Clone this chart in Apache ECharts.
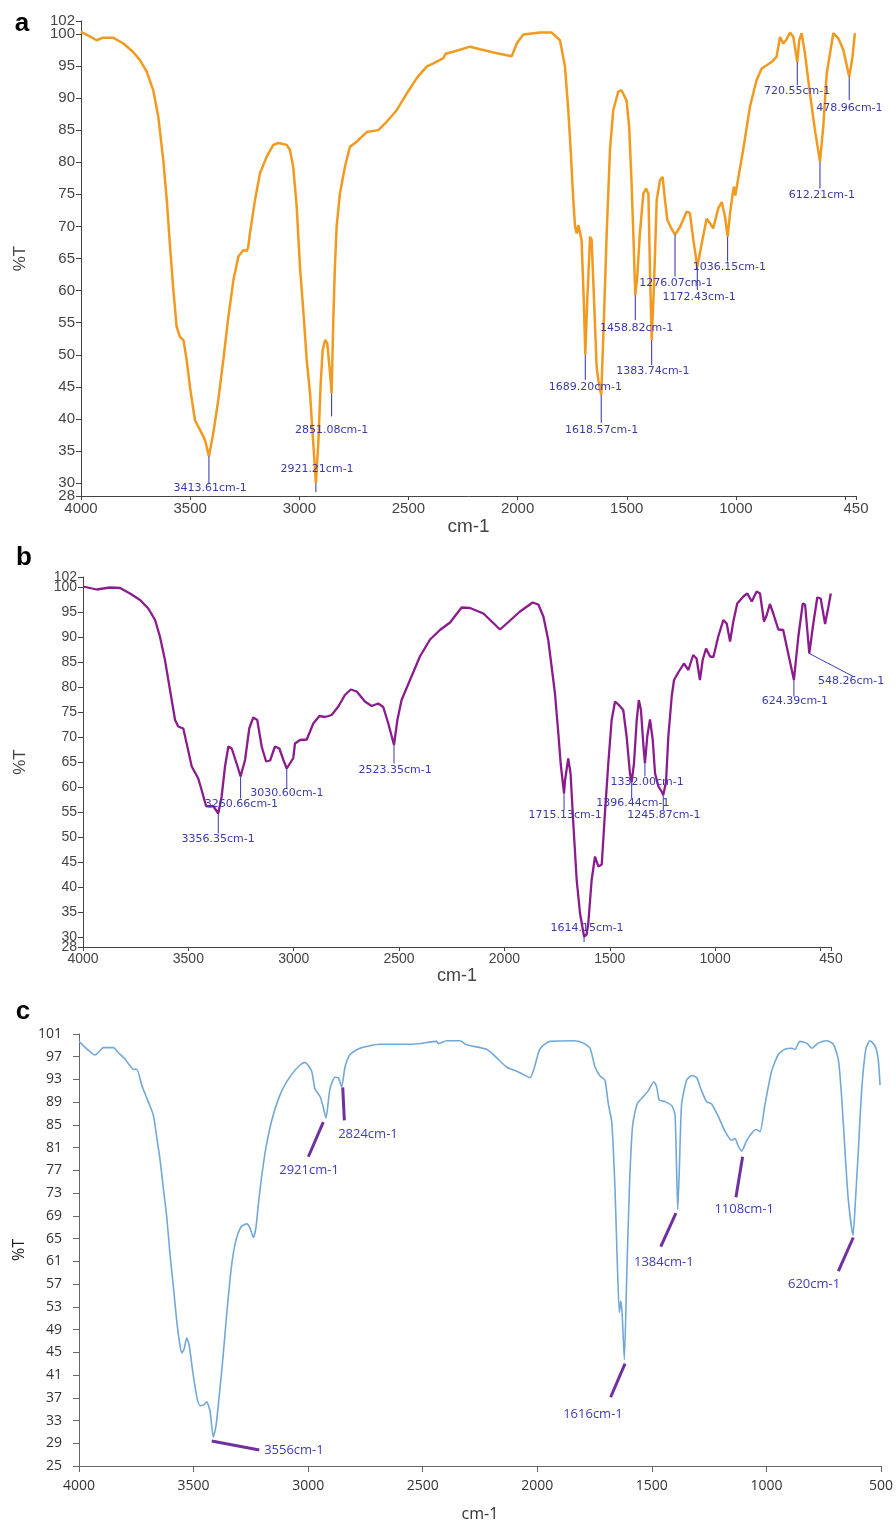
<!DOCTYPE html>
<html>
<head>
<meta charset="utf-8">
<script src="https://cdn.jsdelivr.net/npm/echarts@6/dist/echarts.min.js"></script>
<style>
html,body{margin:0;padding:0;background:#fff;}
#chart{width:896px;height:1523px;}
</style>
</head>
<body>
<div id="chart"></div>
<script>
// ---------- tick values ----------
const wnTicksAB   = [4000,3500,3000,2500,2000,1500,1000,500,450];
const wnLabelsAB  = [4000,3500,3000,2500,2000,1500,1000,450];
const tTicksAB    = [28,30,35,40,45,50,55,60,65,70,75,80,85,90,95,100,102];
const tLabelsAB   = [30,35,40,45,50,55,60,65,70,75,80,85,90,95,100];
const tEdgeLabels = [28,102];
const tTicksC     = [25,29,33,37,41,45,49,53,57,61,65,69,73,77,81,85,89,93,97,101];

// ---------- spectrum a : [wavenumber, %T] ----------
const specA = [
[4000,100.3],[3960,99.6],[3928,99.0],[3900,99.4],[3853,99.4],[3806,98.5],[3762,97.2],[3730,95.9],[3699,94.1],[3669,91.2],
[3646,87.1],[3623,80.3],[3607,74.1],[3592,66.8],[3577,60.1],[3562,54.4],[3547,52.8],[3531,52.3],[3516,49.2],[3501,45.0],
[3478,39.8],[3455,38.3],[3432,36.7],[3414,34.2],[3394,37.8],[3371,43.0],[3348,49.2],[3325,55.9],[3302,61.6],[3279,65.3],
[3257,66.3],[3240,66.2],[3234,66.8],[3226,69.0],[3203,74.1],[3180,78.3],[3149,80.9],[3119,82.7],[3096,83.0],[3058,82.7],
[3043,81.9],[3028,79.3],[3012,73.1],[2997,63.7],[2982,57.0],[2966,49.2],[2951,44.0],[2936,36.2],[2924,30.0],[2913,36.2],
[2902,45.6],[2893,50.7],[2882,52.3],[2872,51.8],[2859,47.1],[2852,44.0],[2844,55.9],[2837,63.7],[2829,70.0],[2814,75.1],
[2791,79.3],[2768,82.4],[2737,83.2],[2691,84.7],[2638,85.0],[2600,86.3],[2554,88.1],[2508,90.7],[2462,93.1],[2417,94.9],
[2386,95.4],[2340,96.2],[2330,96.9],[2295,97.2],[2218,98.0],[2172,97.6],[2111,97.1],[2027,96.5],[2004,98.5],[1974,99.9],
[1898,100.2],[1844,100.2],[1806,99.0],[1783,94.9],[1768,88.1],[1757,81.9],[1745,74.1],[1737,70.0],[1729,68.9],[1722,70.2],
[1707,67.9],[1696,57.5],[1690,50.0],[1681,58.5],[1668,68.4],[1661,67.9],[1653,61.2],[1638,48.1],[1630,46.0],[1617,43.7],
[1607,53.3],[1592,68.9],[1577,81.9],[1562,88.1],[1539,91.0],[1524,91.2],[1501,89.6],[1489,85.5],[1478,76.7],[1470,68.9],
[1461,59.3],[1452,62.2],[1440,68.9],[1424,75.1],[1412,75.9],[1401,75.1],[1394,63.7],[1386,52.3],[1375,61.1],[1363,74.1],
[1348,77.2],[1336,77.7],[1325,74.1],[1314,71.0],[1299,69.9],[1279,68.7],[1256,69.9],[1226,72.3],[1211,72.1],[1195,67.9],
[1177,63.7],[1157,67.3],[1134,71.2],[1119,70.5],[1104,69.7],[1081,72.8],[1065,73.8],[1050,71.5],[1038,68.4],[1027,72.0],
[1015,75.1],[1009,76.2],[1003,74.8],[997,76.0],[967,81.9],[936,88.6],[921,90.7],[905,92.8],[882,94.6],[859,95.1],
[837,95.6],[814,96.4],[798,99.5],[783,98.5],[771,99.0],[752,100.2],[737,99.5],[719,95.6],[710,99.0],[699,100.1],
[684,97.0],[661,90.7],[638,85.0],[615,80.1],[600,85.5],[584,93.8],[554,100.1],[531,99.3],[508,97.5],[481,93.3],
[466,96.4],[455,100.1]
];

// ---------- spectrum b ----------
const specB = [
[4000,100.1],[3935,99.5],[3872,99.9],[3824,99.8],[3777,98.7],[3729,97.4],[3690,95.7],[3658,93.4],[3635,90.1],[3611,85.4],
[3587,79.4],[3563,73.4],[3548,72.1],[3524,71.7],[3508,68.7],[3484,64.1],[3453,61.7],[3437,59.4],[3416,56.2],[3397,56.1],
[3382,56.2],[3358,54.7],[3342,58.1],[3326,64.1],[3310,68.1],[3294,67.7],[3271,64.7],[3252,62.1],[3231,65.4],[3211,71.7],
[3192,73.9],[3173,73.4],[3152,68.1],[3131,65.1],[3112,65.3],[3089,68.1],[3068,67.7],[3049,65.4],[3033,63.7],[3002,65.8],
[2994,68.7],[2970,69.4],[2938,69.5],[2907,72.7],[2878,74.2],[2851,74.0],[2820,74.4],[2788,76.1],[2757,78.4],[2729,79.5],
[2701,79.1],[2662,77.1],[2630,76.2],[2599,76.7],[2575,76.0],[2551,72.7],[2524,68.4],[2508,73.4],[2488,77.4],[2448,81.4],
[2401,86.1],[2353,89.5],[2306,91.4],[2258,92.9],[2203,95.9],[2163,95.8],[2100,94.7],[2060,93.1],[2021,91.5],[1981,93.0],
[1926,95.1],[1866,96.9],[1839,96.5],[1815,94.1],[1792,89.4],[1776,84.1],[1760,78.7],[1744,70.7],[1733,64.7],[1717,58.7],
[1712,61.4],[1697,65.7],[1686,62.7],[1673,52.7],[1657,41.4],[1641,34.7],[1622,30.1],[1610,30.5],[1602,32.7],[1586,41.4],
[1570,46.1],[1554,44.1],[1538,44.5],[1523,54.7],[1507,64.7],[1491,73.4],[1475,77.1],[1459,76.5],[1436,75.4],[1420,70.1],
[1404,62.7],[1396,61.0],[1385,64.7],[1372,73.4],[1362,77.4],[1352,75.4],[1341,68.7],[1333,64.7],[1322,70.1],[1309,73.5],
[1296,69.4],[1285,62.7],[1269,60.1],[1254,59.1],[1246,58.4],[1233,61.0],[1222,70.1],[1206,78.1],[1195,81.4],[1175,82.9],
[1148,84.7],[1127,83.4],[1104,86.4],[1088,85.7],[1072,81.4],[1059,85.4],[1043,87.7],[1024,86.1],[1008,86.0],[985,90.1],
[961,93.4],[945,92.7],[929,89.1],[914,93.0],[895,96.7],[866,98.1],[847,98.7],[826,97.1],[803,99.1],[787,98.7],
[768,93.1],[755,94.4],[740,96.6],[724,94.7],[700,91.5],[677,91.4],[653,86.7],[626,81.4],[605,90.1],[584,96.7],
[573,96.5],[553,86.7],[534,92.7],[515,97.9],[499,97.7],[478,92.6],[462,96.1],[451,98.7]
];

// ---------- spectrum c ----------
const specC = [
[4000,99.7],[3966,98.4],[3930,97.3],[3908,98.1],[3894,98.6],[3850,98.6],[3828,97.7],[3799,96.6],[3785,95.8],[3763,94.8],
[3748,94.8],[3726,92.0],[3698,89.1],[3676,86.8],[3661,82.9],[3647,79.1],[3632,73.9],[3617,68.8],[3603,62.3],[3588,56.5],
[3574,50.7],[3562,46.9],[3552,44.9],[3542,45.5],[3530,47.5],[3519,46.2],[3504,41.7],[3486,37.2],[3472,35.6],[3454,35.8],
[3443,36.3],[3428,34.6],[3414,30.1],[3402,32.1],[3385,38.5],[3370,44.9],[3356,51.4],[3341,57.8],[3327,62.3],[3309,65.6],
[3290,67.2],[3268,67.6],[3254,66.9],[3239,65.2],[3228,66.9],[3218,70.7],[3203,75.9],[3181,81.7],[3152,86.8],[3115,91.0],
[3072,93.9],[3036,95.5],[3014,96.0],[2985,94.5],[2970,91.3],[2948,90.0],[2934,88.1],[2922,86.2],[2905,91.3],[2883,93.4],
[2868,93.3],[2854,91.7],[2839,95.2],[2817,97.4],[2774,98.5],[2686,99.2],[2541,99.2],[2439,99.7],[2432,99.3],[2395,99.8],
[2337,99.8],[2308,99.1],[2221,98.3],[2177,96.8],[2134,95.2],[2076,94.2],[2032,93.3],[2017,94.5],[1988,98.4],[1945,99.7],
[1843,99.8],[1799,99.4],[1770,98.5],[1748,95.2],[1726,93.6],[1705,92.9],[1690,88.7],[1675,85.5],[1661,73.9],[1651,61.0],
[1642,52.0],[1636,54.0],[1630,52.0],[1620,43.7],[1610,57.8],[1598,73.9],[1584,84.9],[1564,88.7],[1537,90.0],[1516,91.0],
[1491,92.6],[1479,91.7],[1468,89.4],[1443,89.1],[1413,88.4],[1399,86.8],[1392,77.2],[1387,70.1],[1380,77.2],[1370,88.7],
[1348,92.9],[1326,93.7],[1304,93.3],[1283,91.0],[1261,89.1],[1239,88.7],[1210,86.5],[1181,83.9],[1152,82.3],[1137,82.6],
[1123,81.3],[1108,80.4],[1086,82.3],[1057,83.9],[1043,84.2],[1028,83.8],[1006,88.7],[977,94.5],[948,97.4],[919,98.3],
[890,98.5],[875,98.3],[854,99.7],[824,99.4],[802,98.5],[774,99.4],[737,99.8],[708,99.2],[686,96.5],[672,90.0],
[657,80.4],[643,72.0],[622,65.6],[613,70.7],[599,80.4],[584,91.3],[566,98.4],[548,99.8],[526,98.9],[512,96.5],[504,92.0]
];

// ---------- peak annotations : [wn1, %T1, wn2, %T2, labelWn, labelT, text] ----------
const peaksA = [
[3414,34.2,3414,30.0,3409,29.2,'3413.61cm-1'],
[2924,30.0,2924,28.6,2919,32.2,'2921.21cm-1'],
[2852,44.0,2852,40.4,2852,38.3,'2851.08cm-1'],
[1690,50.0,1690,46.1,1690,45.0,'1689.20cm-1'],
[1617,43.7,1617,39.4,1615,38.3,'1618.57cm-1'],
[1461,59.3,1461,55.4,1455,54.2,'1458.82cm-1'],
[1386,52.3,1386,48.4,1380,47.5,'1383.74cm-1'],
[1279,68.7,1279,62.2,1275,61.1,'1276.07cm-1'],
[1177,63.7,1177,60.1,1169,59.0,'1172.43cm-1'],
[1038,68.4,1038,64.5,1030,63.6,'1036.15cm-1'],
[719,95.6,719,92.0,720,91.0,'720.55cm-1'],
[615,80.1,615,75.9,606,74.8,'612.21cm-1'],
[481,93.3,481,89.7,480,88.5,'478.96cm-1']
];
const peaksB = [
[3358,54.7,3358,50.7,3359,49.5,'3356.35cm-1'],
[3252,62.1,3252,57.7,3248,56.6,'3260.66cm-1'],
[3033,63.7,3033,59.7,3032,58.7,'3030.60cm-1'],
[2524,68.4,2524,64.7,2519,63.4,'2523.35cm-1'],
[1717,58.7,1717,55.4,1712,54.4,'1715.13cm-1'],
[1622,30.1,1622,29.0,1608,31.8,'1614.15cm-1'],
[1396,61.0,1396,57.7,1390,56.7,'1396.44cm-1'],
[1333,64.7,1333,62.1,1323,60.9,'1332.00cm-1'],
[1246,58.4,1246,55.4,1243,54.4,'1245.87cm-1'],
[626,81.4,626,78.1,621,77.1,'624.39cm-1'],
[553,86.7,344,82.1,355,81.1,'548.26cm-1']
];
const peaksC = [
[3421,29.4,3213,27.8,3062,27.8,'3556cm-1'],
[2934,85.5,2999,79.4,2996,77.1,'2921cm-1'],
[2849,91.6,2842,85.8,2739,83.3,'2824cm-1'],
[1617,43.0,1680,37.1,1757,34.1,'1616cm-1'],
[1395,69.5,1461,63.6,1448,60.9,'1384cm-1'],
[1104,79.4,1133,72.3,1097,70.2,'1108cm-1'],
[621,65.2,686,59.3,792,56.9,'620cm-1']
];

// ---------- build ----------
const chart = echarts.init(document.getElementById('chart'), null, {renderer:'canvas'});

function annot(peaks, gi, lineColor, lineWidth, textColor, font){
  return {
    type:'custom', xAxisIndex:gi, yAxisIndex:gi, clip:false, z:5,
    data: peaks.map(p => p.slice(0,6)),
    encode:{x:0, y:1},
    renderItem:function(params, api){
      const p1 = api.coord([api.value(0), api.value(1)]);
      const p2 = api.coord([api.value(2), api.value(3)]);
      const pl = api.coord([api.value(4), api.value(5)]);
      return {type:'group', children:[
        {type:'line', shape:{x1:p1[0],y1:p1[1],x2:p2[0],y2:p2[1]}, style:{stroke:lineColor, lineWidth:lineWidth}},
        {type:'text', x:pl[0], y:pl[1], style:{text:peaks[params.dataIndex][6], align:'center', verticalAlign:'middle', font:font, fill:textColor}}
      ]};
    }
  };
}

const fAB = 'Liberation Sans';
const fC = 'Open Sans';
const plain = v => String(v);

function xAxisAB(gi, labelSize, nameSize, nameGap){
  return {
    type:'value', gridIndex:gi, min:450, max:4000, inverse:true,
    axisLine:{show:true, onZero:false, lineStyle:{color:'#444', width:1}},
    axisTick:{show:true, length:4, customValues:wnTicksAB, lineStyle:{color:'#444'}},
    axisLabel:{customValues:wnLabelsAB, formatter:plain, showMinLabel:true, showMaxLabel:true, hideOverlap:false,
               fontFamily:fAB, fontSize:labelSize, color:'#444', margin:5},
    splitLine:{show:false},
    name:'cm-1', nameLocation:'middle', nameGap:nameGap,
    nameTextStyle:{fontFamily:fAB, fontSize:nameSize, color:'#444'}
  };
}
function yAxisAB(gi, labelSize, nameGap){
  return {
    type:'value', gridIndex:gi, min:28, max:102, position:'left',
    axisLine:{show:true, onZero:false, lineStyle:{color:'#444', width:1}},
    axisTick:{show:true, length:5, customValues:tTicksAB, lineStyle:{color:'#444'}},
    axisLabel:{customValues:tLabelsAB, formatter:plain, hideOverlap:false,
               fontFamily:fAB, fontSize:labelSize, color:'#444', margin:6},
    splitLine:{show:false},
    name:'%T', nameLocation:'middle', nameGap:nameGap, nameRotate:90,
    nameTextStyle:{fontFamily:fAB, fontSize:17, color:'#444'}
  };
}
// second, label-only axis carrying the 28 / 102 end labels
function yEdgeAB(gi, labelSize){
  return {
    type:'value', gridIndex:gi, min:28, max:102, position:'left', offset:0,
    axisLine:{show:false}, axisTick:{show:false}, splitLine:{show:false},
    axisLabel:{customValues:tEdgeLabels, formatter:plain, showMinLabel:true, showMaxLabel:true, hideOverlap:false,
               fontFamily:fAB, fontSize:labelSize, color:'#444', margin:6}
  };
}

const option = {
  animation:false,
  backgroundColor:'#fff',
  grid:[
    {left:81, top:21, width:775, height:475},
    {left:83, top:577, width:748, height:370},
    {left:79, top:1034, width:802, height:432}
  ],
  xAxis:[
    xAxisAB(0, 15, 19, 21),
    xAxisAB(1, 14, 18, 14),
    {
      type:'value', gridIndex:2, min:500, max:4000, interval:500, inverse:true,
      axisLine:{show:true, onZero:false, lineStyle:{color:'#666', width:1}},
      axisTick:{show:true, length:6, lineStyle:{color:'#666'}},
      axisLabel:{formatter:plain, showMinLabel:true, showMaxLabel:true, fontFamily:fC, fontSize:14, color:'#333', margin:13},
      splitLine:{show:false},
      name:'cm-1', nameLocation:'middle', nameGap:40,
      nameTextStyle:{fontFamily:fC, fontSize:16, color:'#333'}
    }
  ],
  yAxis:[
    yAxisAB(0, 15, 52),
    yAxisAB(1, 14, 54),
    {
      type:'value', gridIndex:2, min:25, max:101,
      axisLine:{show:true, onZero:false, lineStyle:{color:'#666', width:1}},
      axisTick:{show:true, length:6, customValues:tTicksC, lineStyle:{color:'#666'}},
      axisLabel:{customValues:tTicksC, formatter:plain, showMinLabel:true, showMaxLabel:true, hideOverlap:false,
                 fontFamily:fC, fontSize:14, color:'#333', margin:17},
      splitLine:{show:false},
      name:'%T', nameLocation:'middle', nameGap:47, nameRotate:90,
      nameTextStyle:{fontFamily:fC, fontSize:16, color:'#222'}
    },
    yEdgeAB(0, 15),
    yEdgeAB(1, 14)
  ],
  graphic:[
    {type:'text', x:22, y:24, style:{text:'a', font:'bold 26px "Liberation Sans"', fill:'#000', align:'center', verticalAlign:'middle'}},
    {type:'text', x:24, y:558, style:{text:'b', font:'bold 26px "Liberation Sans"', fill:'#000', align:'center', verticalAlign:'middle'}},
    {type:'text', x:23, y:1012, style:{text:'c', font:'bold 26px "Liberation Sans"', fill:'#000', align:'center', verticalAlign:'middle'}}
  ],
  series:[
    {type:'line', xAxisIndex:0, yAxisIndex:0, data:specA, showSymbol:false, lineStyle:{color:'#f29a1f', width:2.5}, z:3},
    {type:'line', xAxisIndex:1, yAxisIndex:1, data:specB, showSymbol:false, lineStyle:{color:'#8b1c8d', width:2.3}, z:3},
    {type:'line', xAxisIndex:2, yAxisIndex:2, data:specC, showSymbol:false, smooth:0.2, lineStyle:{color:'#72a8d8', width:1.6}, z:3},
    annot(peaksA, 0, '#2f2fa6', 1, '#3a3aa8', '11px "DejaVu Sans"'),
    annot(peaksB, 1, '#3a3aae', 1, '#3a3aae', '11px "DejaVu Sans"'),
    annot(peaksC, 2, '#7030a0', 3, '#3e3eb6', '13px "Open Sans"')
  ]
};
chart.setOption(option);
</script>
</body>
</html>
